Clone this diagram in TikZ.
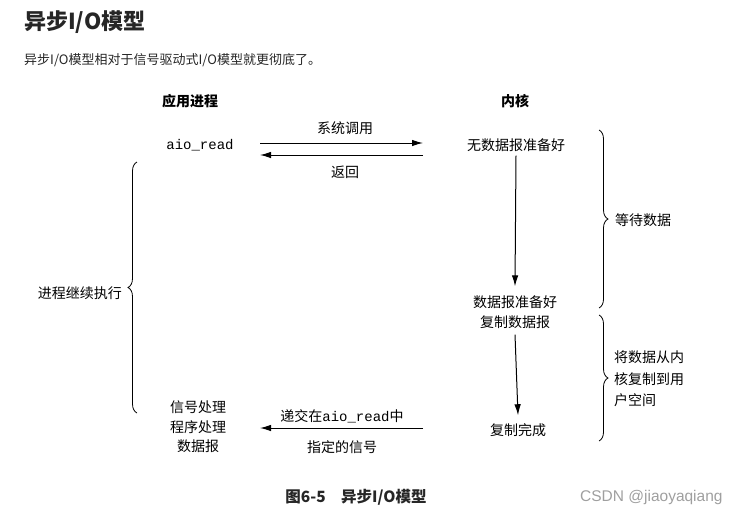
\documentclass[tikz,border=0pt]{standalone}
\usepackage{fontspec}
\setmainfont{Noto Sans CJK SC}
\newfontfamily\mono{Liberation Mono}
\newfontfamily\wmark{Liberation Sans}
\usetikzlibrary{calc,positioning,arrows.meta,decorations.pathreplacing}

\begin{document}
\begin{tikzpicture}[
                x=1pt,y=-1pt,
                every node/.style={inner sep=0pt,font=\fontsize{14}{20}\selectfont},
                msg/.style={-{Latex[length=11pt,width=6.5pt]},line width=1pt},
                curly/.style={decorate,decoration={brace,amplitude=9pt},line width=0.8pt},
                node distance=1mm
            ]
                \useasboundingbox (0,0) rectangle (739,517);
                \node [anchor=west,font=\fontsize{22}{26}\selectfont\bfseries,text=black!85] (title) at (24,22) {异步I/O模型};
                \node [anchor=west,font=\fontsize{13}{16}\selectfont,text=black!85] (intro) at (24,60) {异步I/O模型相对于信号驱动式I/O模型就更彻底了。};
                % two columns
                \node [font=\fontsize{14}{20}\selectfont\bfseries] (app) at (190,101) {应用进程};
                \node [font=\fontsize{14}{20}\selectfont\bfseries] (kern) at (515,101) {内核};
                \node (aio) at (200,145) {\mono aio\_read};
                \node (nodata) at (516,145) {无数据报准备好};
                \node [align=center] (ready) at (515,312) {数据报准备好\\复制数据报};
                \node (done) at (518,430) {复制完成};
                \node [align=center,font=\fontsize{14}{19.5}\selectfont] (sig) at (198,427) {信号处理\\程序处理\\数据报};
                % messages between process and kernel
                \coordinate (callL) at (260,143);
                \coordinate (callR) at (423,143);
                \coordinate (retL) at (260,155);
                \coordinate (retR) at (423,155);
                \coordinate (sigL) at (260,428);
                \coordinate (sigR) at (423,428);
                \draw [msg] (callL) -- (callR);
                \draw [msg] (retR) -- (retL);
                \draw [msg] (sigR) -- (sigL);
                \node (call) at (345,128) {系统调用};
                \node (ret) at (345,172) {返回};
                \node (deliver) at (342,416) {递交在{\mono aio\_read}中};
                \node (signo) at (342,447) {指定的信号};
                % kernel steps
                \draw [msg] ([yshift=-4pt]nodata.south) -- ([yshift=9pt]ready.north);
                \draw [msg] ([yshift=-6pt]ready.south) -- ([yshift=8pt]done.north);
                % braces
                \draw [curly] (599,130) -- (599,308);
                \draw [curly] (599,315) -- (599,441);
                \draw [curly] (137,413) -- (137,162);
                \node [anchor=west] (wait) at (615,220) {等待数据};
                \node [anchor=west,align=left,font=\fontsize{14}{21.5}\selectfont] (copyk) at (614,379) {将数据从内\\核复制到用\\户空间};
                \node [anchor=east] (goon) at (122,293) {进程继续执行};
                % caption
                \node [font=\fontsize{15.5}{18}\selectfont\bfseries,text=black!85] (cap) at (356,497) {图6-5\quad 异步I/O模型};
                \node [anchor=west,text=gray!75,font=\wmark\fontsize{15.5}{18}\selectfont] (mark) at (580,497) {CSDN @jiaoyaqiang};
            \end{tikzpicture}
\end{document}
